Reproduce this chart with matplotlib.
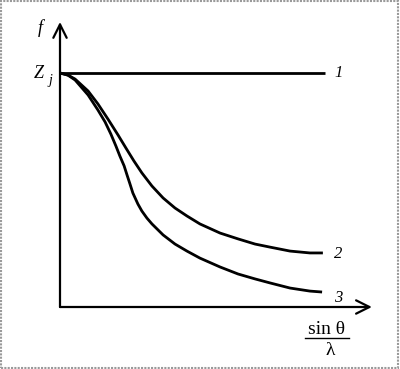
import matplotlib
matplotlib.use("Agg")
import matplotlib.pyplot as plt
from matplotlib.patches import Rectangle

# sin(theta)/lambda (relative) and f/Zj
x_curve2 = [0, .030, .057, .106, .143, .181, .219, .249, .279, .309, .347, .389,
            .434, .479, .528, .604, .672, .736, .792, .868, .943, .992]
f_curve2 = [1, .991, .974, .923, .868, .803, .735, .679, .624, .573, .517, .466,
            .423, .389, .355, .316, .291, .269, .256, .239, .231, .231]

x_curve3 = [0, .030, .057, .106, .143, .170, .192, .211, .226, .242, .253, .264,
            .275, .294, .309, .328, .347, .389, .434, .479, .528, .604, .672,
            .736, .792, .868, .943, .989]
f_curve3 = [1, .991, .970, .906, .842, .791, .739, .688, .645, .603, .564, .526,
            .487, .440, .410, .380, .355, .308, .269, .239, .209, .171, .141,
            .120, .103, .081, .068, .064]

x_curve1 = [0, 1.0]
f_curve1 = [1, 1]

curve_labels = ["1", "2", "3"]

serif = ["Liberation Serif", "DejaVu Serif"]

fig = plt.figure(figsize=(4.0, 3.69), dpi=100)
ax = fig.add_axes([0, 0, 1, 1])
ax.set_xlim(-60 / 265, 340 / 265)
ax.set_ylim(-62 / 234, 307 / 234)
ax.axis("off")

# frame around the picture
ax.add_patch(Rectangle((0.002, 0.002), 0.994, 0.994, transform=ax.transAxes,
                       fill=False, ec="#9a9a9a", lw=1.5, ls=(0, (1, 0.6))))

# axes with open arrow heads
arrow = dict(arrowstyle="->", lw=1.6, color="black", mutation_scale=24,
             shrinkA=0, shrinkB=0)
ax.annotate("", xy=(0, 1.218), xytext=(0, 0), arrowprops=arrow)
ax.annotate("", xy=(1.177, 0), xytext=(0, 0), arrowprops=arrow)

for xs, fs in [(x_curve1, f_curve1), (x_curve2, f_curve2), (x_curve3, f_curve3)]:
    ax.plot(xs, fs, color="black", lw=2.0, solid_joinstyle="round",
            solid_capstyle="butt")

# curve numbers
lab_x = 1.05
ax.text(lab_x, f_curve1[-1], curve_labels[0], family=serif, style="italic",
        fontsize=12, ha="center", va="center")
ax.text(lab_x, f_curve2[-1] - 0.005, curve_labels[1], family=serif, style="italic",
        fontsize=12, ha="center", va="center")
ax.text(lab_x, f_curve3[-1] - 0.024, curve_labels[2], family=serif, style="italic",
        fontsize=12, ha="center", va="center")

# axis names
ax.text(-0.075, 1.19, "f", family=serif, style="italic", fontsize=13,
        ha="center", va="center")
ax.text(-0.08, 1.0, "Z", family=serif, style="italic", fontsize=13,
        ha="center", va="center")
ax.text(-0.036, 0.97, "j", family=serif, style="italic", fontsize=10,
        ha="center", va="center")

ax.text(1.006, -0.098, "sin θ", family=serif, fontsize=14, ha="center", va="center")
ax.plot([0.925, 1.092], [-0.132, -0.132], color="black", lw=1.0)
ax.text(1.02, -0.185, "λ", family=serif, fontsize=14, ha="center", va="center")

fig.savefig("out.png", dpi=100)
